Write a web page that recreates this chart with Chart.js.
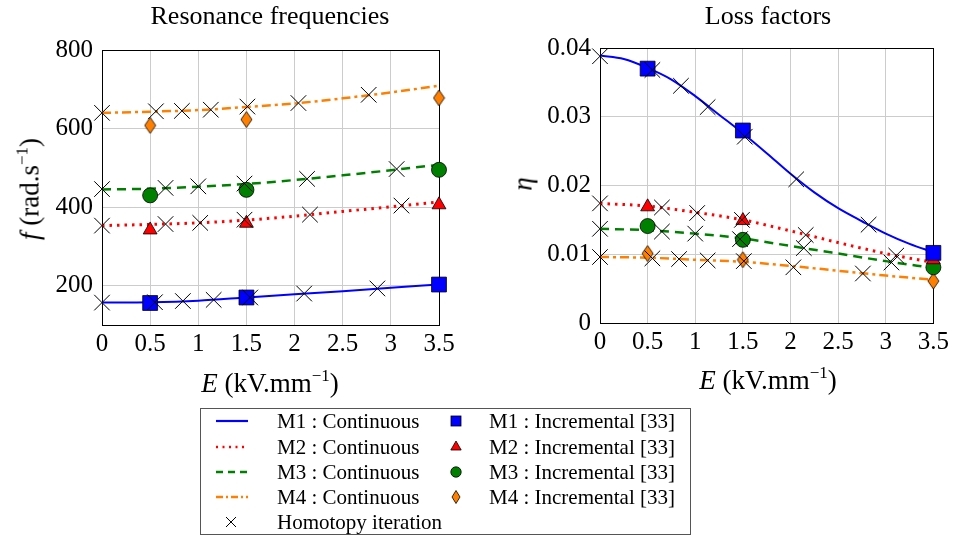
<!DOCTYPE html>
<html>
<head>
<meta charset="utf-8">
<script src="https://cdn.jsdelivr.net/npm/chart.js@4.4.0/dist/chart.umd.min.js"></script>
<style>
	body { margin: 0; background: #fff; font-family: "Liberation Serif", serif; color: #000; }
	#pagina { position: relative; width: 953px; height: 537px; overflow: hidden; }
	.caixa { position: absolute; }
	.texto { position: absolute; white-space: nowrap; font-size: 26px; transform: translate(-50%, -50%); }
	.eixo { font-size: 27px; }
	.vertical { transform: translate(-50%, -50%) rotate(-90deg); }
	sup { font-size: 17px; vertical-align: 11px; line-height: 0; }
	#legenda { position: absolute; left: 200px; top: 408px; width: 489px; height: 125px; border: 1px solid #555; }
	#legenda .item { position: absolute; font-size: 21px; white-space: nowrap; transform: translateY(-50%); }
	#legenda svg { position: absolute; transform: translate(-50%, -50%); overflow: visible; }
</style>
</head>
<body>
<div id="pagina">
	<div class="caixa" style="left:0px; top:0px;"><canvas id="graficoFreq" width="460" height="400"></canvas></div>
	<div class="caixa" style="left:480px; top:0px;"><canvas id="graficoPerda" width="473" height="400"></canvas></div>

	<div class="texto" style="left:270px; top:16px;">Resonance frequencies</div>
	<div class="texto" style="left:768px; top:16px;">Loss factors</div>
	<div class="texto eixo vertical" style="left:30px; top:189px;"><i>f</i> (rad.s<sup>−1</sup>)</div>
	<div class="texto eixo vertical" style="left:523px; top:184px;"><i>η</i></div>
	<div class="texto eixo" style="left:270px; top:383px;"><i>E</i> (kV.mm<sup>−1</sup>)</div>
	<div class="texto eixo" style="left:768px; top:380px;"><i>E</i> (kV.mm<sup>−1</sup>)</div>

	<div id="legenda"></div>
</div>

<script>
// Campo elétrico (kV/mm)
var eCont = [0, 0.5, 1, 1.5, 2, 2.5, 3, 3.5];
var eContM1Perda = [0, 0.25, 0.5, 0.75, 1, 1.25, 1.5, 1.75, 2, 2.25, 2.5, 2.75, 3, 3.25, 3.5];
var eIncr = [0.5, 1.5, 3.5];

// Frequências de ressonância - contínuo
var freqM1 = [157, 158, 162, 170, 178, 186, 195, 203];
var freqM2 = [353, 356, 360, 367, 377, 389, 401, 413];
var freqM3 = [445, 447, 452, 459, 469, 481, 494, 508];
var freqM4 = [640, 643, 647, 655, 664, 677, 692, 709];

// Frequências - incremental [33]
var freqIncrM1 = [156, 170, 203];
var freqIncrM2 = [342, 359, 406];
var freqIncrM3 = [430, 444, 495];
var freqIncrM4 = [608, 623, 678];

// Frequências - iterações de homotopia
var eHomFreqM1 = [0, 0.55, 0.84, 1.16, 1.54, 2.10, 2.86];
var homFreqM1 = [157, 158, 161, 164, 170, 180, 193];
var eHomFreqM2 = [0, 0.66, 1.02, 1.48, 2.16, 3.11];
var homFreqM2 = [353, 357, 360, 368, 381, 404];
var eHomFreqM3 = [0, 0.66, 1.0, 1.48, 2.13, 3.06];
var homFreqM3 = [446, 449, 453, 460, 472, 497];
var eHomFreqM4 = [0, 0.56, 0.83, 1.13, 1.51, 2.04, 2.77];
var homFreqM4 = [640, 644, 645, 648, 656, 665, 686];

// Fatores de perda - contínuo
var perdaM1 = [0.0389, 0.0384, 0.0371, 0.0354, 0.0330, 0.0303, 0.0276, 0.0247, 0.0217, 0.0190, 0.0167, 0.0148, 0.0130, 0.0115, 0.0103];
var perdaM2 = [0.0174, 0.0170, 0.0161, 0.0150, 0.0134, 0.0117, 0.0101, 0.0088];
var perdaM3 = [0.0137, 0.0135, 0.0130, 0.0123, 0.0112, 0.0101, 0.0090, 0.0080];
var perdaM4 = [0.0096, 0.0095, 0.0092, 0.0089, 0.0083, 0.0076, 0.0069, 0.0063];

// Fatores de perda - incremental [33]
var perdaIncrM1 = [0.0370, 0.0280, 0.0102];
var perdaIncrM2 = [0.0169, 0.0149, 0.0092];
var perdaIncrM3 = [0.0141, 0.0121, 0.0081];
var perdaIncrM4 = [0.0101, 0.0092, 0.0061];

// Fatores de perda - iterações de homotopia
var eHomPerdaM1 = [0, 0.55, 0.85, 1.13, 1.52, 2.06, 2.82];
var homPerdaM1 = [0.0388, 0.0368, 0.0345, 0.0314, 0.0271, 0.0209, 0.0143];
var eHomPerdaM2 = [0, 0.65, 1.02, 1.49, 2.16, 3.11];
var homPerdaM2 = [0.0174, 0.0168, 0.0160, 0.0150, 0.0128, 0.0098];
var eHomPerdaM3 = [0, 0.65, 1.0, 1.47, 2.14, 3.06];
var homPerdaM3 = [0.0137, 0.0133, 0.0130, 0.0122, 0.0109, 0.0088];
var eHomPerdaM4 = [0, 0.55, 0.83, 1.13, 1.51, 2.03, 2.76];
var homPerdaM4 = [0.0096, 0.0094, 0.0093, 0.0091, 0.0090, 0.0081, 0.0072];

// Ticks
var ticksE = [0, 0.5, 1, 1.5, 2, 2.5, 3, 3.5];
var ticksFreq = [200, 400, 600, 800];
var ticksPerda = [0, 0.01, 0.02, 0.03, 0.04];

// Cores
var azul = "rgb(0,0,255)";
var vermelho = "rgb(255,0,0)";
var verde = "rgb(0,128,0)";
var laranja = "rgb(255,128,0)";

function pontos(xs, ys) {
	var lista = [];
	for (var i = 0; i < xs.length; i++) {
		lista.push({ x: xs[i], y: ys[i] });
	}
	return lista;
}

// Losango do M4 (pgfplots diamond)
function criarLosango(w, h) {
	var c = document.createElement("canvas");
	c.width = w + 2;
	c.height = h + 2;
	var ctx = c.getContext("2d");
	ctx.beginPath();
	ctx.moveTo(c.width / 2, 1);
	ctx.lineTo(c.width - 1, c.height / 2);
	ctx.lineTo(c.width / 2, c.height - 1);
	ctx.lineTo(1, c.height / 2);
	ctx.closePath();
	ctx.fillStyle = laranja;
	ctx.fill();
	ctx.strokeStyle = "#000";
	ctx.lineWidth = 0.8;
	ctx.stroke();
	return c;
}
var losango = criarLosango(11, 16);

function linha(xs, ys, cor, dash, largura) {
	return {
		data: pontos(xs, ys),
		showLine: true,
		borderColor: cor,
		borderWidth: largura,
		borderDash: dash,
		pointRadius: 0,
		cubicInterpolationMode: "monotone",
		order: 2,
	};
}

function marcador(xs, ys, cor, estilo, raio) {
	return {
		data: pontos(xs, ys),
		showLine: false,
		pointStyle: estilo,
		pointRadius: raio,
		pointBackgroundColor: cor,
		pointBorderColor: "#000",
		pointBorderWidth: 0.8,
		clip: false,
		order: 1,
	};
}

function homotopia(xs, ys) {
	return {
		data: pontos(xs, ys),
		showLine: false,
		pointStyle: "crossRot",
		pointRadius: 11,
		pointBorderColor: "#000",
		pointBorderWidth: 1,
		clip: false,
		order: 0,
	};
}

// Moldura preta em volta da área do gráfico
var moldura = {
	id: "moldura",
	beforeDatasetsDraw: function (chart) {
		var a = chart.chartArea;
		var ctx = chart.ctx;
		ctx.save();
		ctx.strokeStyle = "#000";
		ctx.lineWidth = 1;
		ctx.strokeRect(Math.round(a.left) + 0.5, Math.round(a.top) + 0.5, Math.round(a.right - a.left), Math.round(a.bottom - a.top));
		ctx.restore();
	},
};

var fonteTick = { family: "Liberation Serif", size: 25 };

function opcoes(ymin, ymax, ticksY, larguraY, alturaX, padding, formatoY) {
	return {
		responsive: false,
		animation: false,
		events: [],
		layout: { padding: padding },
		plugins: { legend: { display: false }, tooltip: { enabled: false } },
		scales: {
			x: {
				type: "linear",
				min: 0,
				max: 3.5,
				afterBuildTicks: function (scale) {
					scale.ticks = ticksE.map(function (v) { return { value: v }; });
				},
				afterFit: function (scale) { scale.height = alturaX; },
				grid: { color: "rgb(204,204,204)", drawTicks: false },
				border: { display: false },
				ticks: { color: "#000", font: fonteTick, padding: 4, maxRotation: 0,
					callback: function (v) { return String(v); } },
			},
			y: {
				type: "linear",
				min: ymin,
				max: ymax,
				afterBuildTicks: function (scale) {
					scale.ticks = ticksY.map(function (v) { return { value: v }; });
				},
				afterFit: function (scale) { scale.width = larguraY; },
				grid: { color: "rgb(204,204,204)", drawTicks: false },
				border: { display: false },
				ticks: { color: "#000", font: fonteTick, padding: 9, callback: formatoY },
			},
		},
	};
}

new Chart(document.getElementById("graficoFreq"), {
	type: "scatter",
	data: {
		datasets: [
			linha(eCont, freqM1, azul, [], 2),
			linha(eCont, freqM2, vermelho, [2.5, 5], 3),
			linha(eCont, freqM3, verde, [9, 6], 2.5),
			linha(eCont, freqM4, laranja, [9, 4, 3, 4], 2.5),
			marcador(eIncr, freqIncrM1, azul, "rect", 10.5),
			marcador(eIncr, freqIncrM2, vermelho, "triangle", 8),
			marcador(eIncr, freqIncrM3, verde, "circle", 7.5),
			marcador(eIncr, freqIncrM4, laranja, losango, 8),
			homotopia(eHomFreqM1, homFreqM1),
			homotopia(eHomFreqM2, homFreqM2),
			homotopia(eHomFreqM3, homFreqM3),
			homotopia(eHomFreqM4, homFreqM4),
		],
	},
	options: opcoes(100, 800, ticksFreq, 102, 75, { top: 50, right: 21, bottom: 0, left: 0 },
		function (v) { return String(v); }),
	plugins: [moldura],
});

new Chart(document.getElementById("graficoPerda"), {
	type: "scatter",
	data: {
		datasets: [
			linha(eContM1Perda, perdaM1, azul, [], 2),
			linha(eCont, perdaM2, vermelho, [2.5, 5], 3),
			linha(eCont, perdaM3, verde, [9, 6], 2.5),
			linha(eCont, perdaM4, laranja, [9, 4, 3, 4], 2.5),
			marcador(eIncr, perdaIncrM1, azul, "rect", 10.5),
			marcador(eIncr, perdaIncrM2, vermelho, "triangle", 8),
			marcador(eIncr, perdaIncrM3, verde, "circle", 7.5),
			marcador(eIncr, perdaIncrM4, laranja, losango, 8),
			homotopia(eHomPerdaM1, homPerdaM1),
			homotopia(eHomPerdaM2, homPerdaM2),
			homotopia(eHomPerdaM3, homPerdaM3),
			homotopia(eHomPerdaM4, homPerdaM4),
		],
	},
	options: opcoes(0, 0.04, ticksPerda, 120, 77, { top: 48, right: 16, bottom: 0, left: 0 },
		function (v) { return v == 0 ? "0" : v.toFixed(2); }),
	plugins: [moldura],
});

// Legenda (HTML)
var modos = ["M1", "M2", "M3", "M4"];
var coresModo = [azul, vermelho, verde, laranja];
var tracos = ["", "2 4.5", "7 5", "7 3 2 3"];
var largurasTraco = [2.2, 2.5, 2.5, 2.5];
var simbolos = [
	'<rect x="-5" y="-5" width="10" height="10" fill="' + azul + '" stroke="#000" stroke-width="0.8"/>',
	'<polygon points="0,-6 5.2,3 -5.2,3" fill="' + vermelho + '" stroke="#000" stroke-width="0.8"/>',
	'<circle cx="0" cy="0" r="5.2" fill="' + verde + '" stroke="#000" stroke-width="0.8"/>',
	'<polygon points="0,-6.5 4,0 0,6.5 -4,0" fill="' + laranja + '" stroke="#000" stroke-width="0.8"/>',
];
var linhasY = [12, 37.5, 63, 87.5, 113];
var legenda = document.getElementById("legenda");
var html = "";

for (var i = 0; i < modos.length; i++) {
	html += `<svg width="32" height="8" style="left:31px; top:${linhasY[i]}px;">
		<line x1="0" y1="4" x2="32" y2="4" stroke="${coresModo[i]}" stroke-width="${largurasTraco[i]}" stroke-dasharray="${tracos[i]}"/></svg>`;
	html += `<div class="item" style="left:76px; top:${linhasY[i]}px;">${modos[i]} : Continuous</div>`;
	html += `<svg width="14" height="14" viewBox="-7 -7 14 14" style="left:255px; top:${linhasY[i]}px;">${simbolos[i]}</svg>`;
	html += `<div class="item" style="left:288px; top:${linhasY[i]}px;">${modos[i]} : Incremental [33]</div>`;
}
html += `<svg width="12" height="12" viewBox="-6 -6 12 12" style="left:30px; top:${linhasY[4]}px;">
	<line x1="-5" y1="-5" x2="5" y2="5" stroke="#000" stroke-width="1"/><line x1="-5" y1="5" x2="5" y2="-5" stroke="#000" stroke-width="1"/></svg>`;
html += `<div class="item" style="left:76px; top:${linhasY[4]}px;">Homotopy iteration</div>`;
legenda.innerHTML = html;
</script>
</body>
</html>
